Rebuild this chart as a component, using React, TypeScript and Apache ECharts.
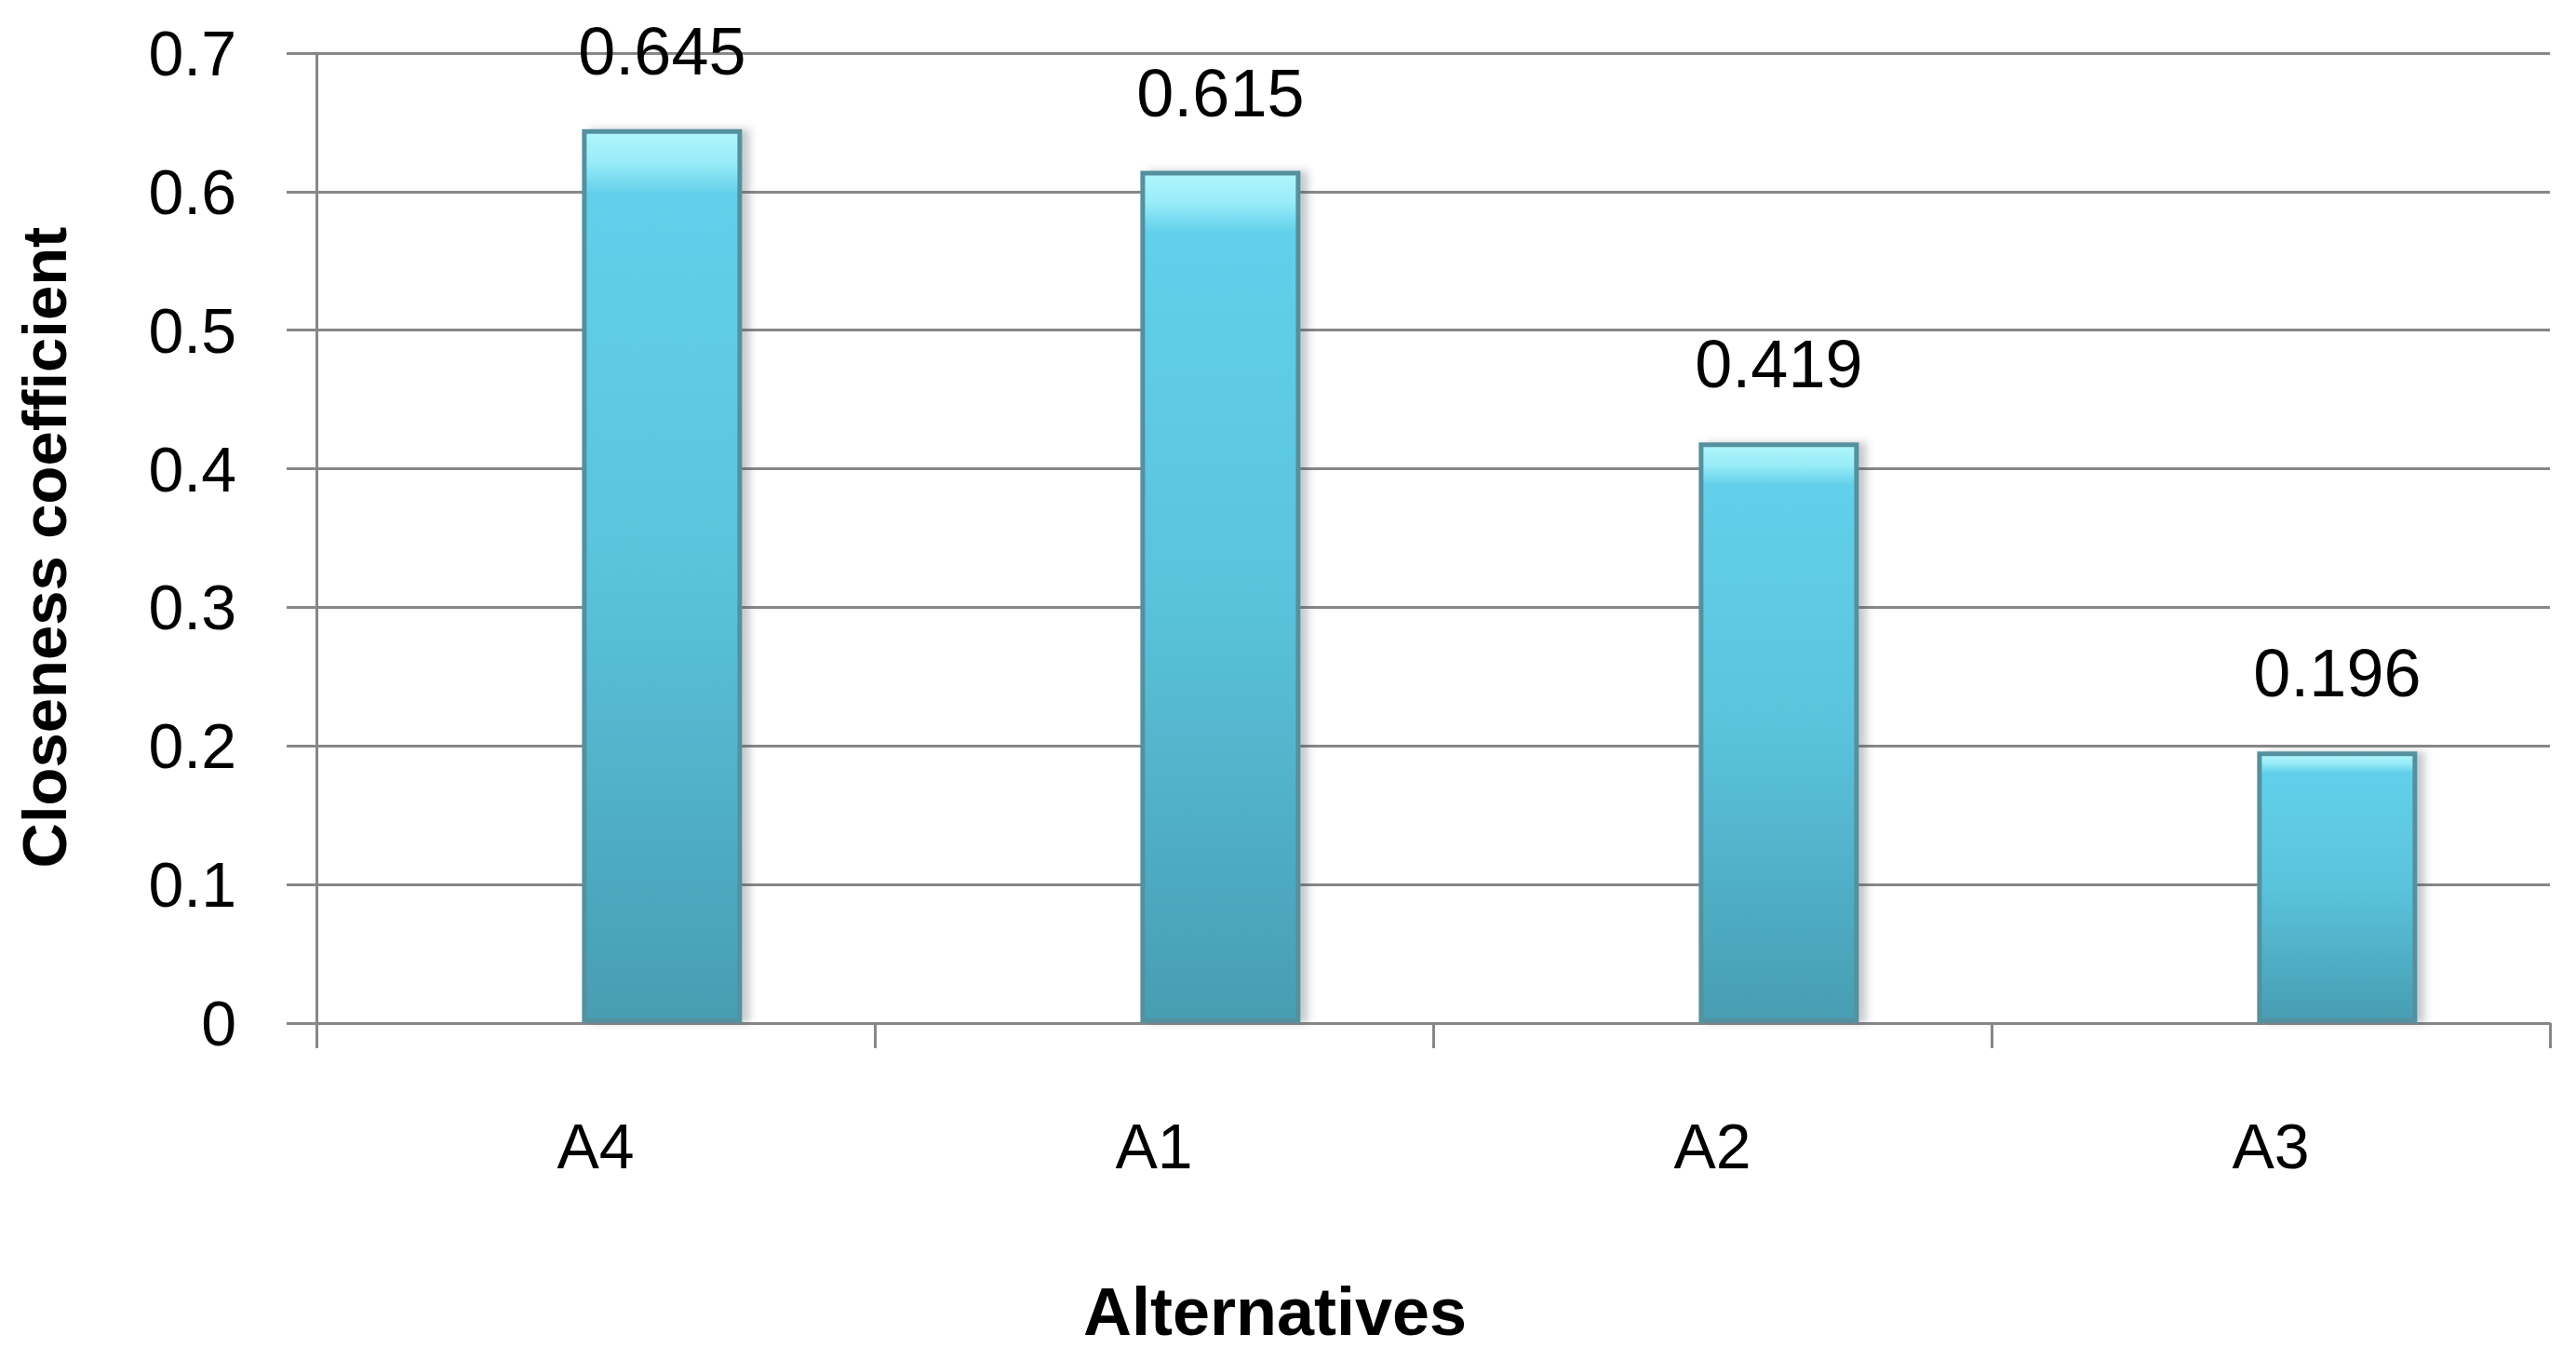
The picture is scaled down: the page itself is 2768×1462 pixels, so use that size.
import React, { useEffect, useRef } from "react";
import * as echarts from "echarts";

const categories = ["A4", "A1", "A2", "A3"];
const closeness = [0.645, 0.615, 0.419, 0.196];
const yTicks = { min: 0, max: 0.7, interval: 0.1 };
const xAxisName = "Alternatives";
const yAxisName = "Closeness coefficient";

const GRAY = "#878787";
const FONT = "Liberation Sans";

export default function App() {
  const ref = useRef<HTMLDivElement>(null);
  useEffect(() => {
    if (!ref.current) return;
    const chart = echarts.init(ref.current, undefined, { renderer: "svg" });
    chart.setOption({
      animation: false,
      backgroundColor: "#ffffff",
      grid: { left: 340, right: 28, top: 57, bottom: 363, containLabel: false },
      xAxis: {
        type: "category",
        data: categories,
        boundaryGap: true,
        name: xAxisName,
        nameLocation: "middle",
        nameGap: 274,
        nameTextStyle: {
          fontFamily: FONT,
          fontWeight: "bold",
          fontSize: 72,
          color: "#000",
          padding: [0, 340, 0, 0],
        },
        axisLine: { show: true, lineStyle: { color: GRAY, width: 3 } },
        axisTick: { show: true, length: 27, lineStyle: { color: GRAY, width: 3 } },
        axisLabel: { fontFamily: FONT, fontSize: 68, color: "#000", margin: 98 },
        splitLine: { show: false },
      },
      yAxis: {
        type: "value",
        min: yTicks.min,
        max: yTicks.max,
        interval: yTicks.interval,
        name: yAxisName,
        nameLocation: "middle",
        nameGap: 259,
        nameTextStyle: {
          fontFamily: FONT,
          fontWeight: "bold",
          fontSize: 67,
          color: "#000",
          padding: [0, 20, 0, 0],
        },
        axisLine: { show: true, lineStyle: { color: GRAY, width: 3 } },
        axisTick: { show: true, length: 32, lineStyle: { color: GRAY, width: 3 } },
        axisLabel: { fontFamily: FONT, fontSize: 68, color: "#000", margin: 86 },
        splitLine: { show: true, lineStyle: { color: GRAY, width: 3 } },
      },
      series: [
        {
          name: "spacer",
          type: "bar",
          data: categories.map(() => "-"),
          barWidth: 172,
          barGap: "-17%",
          silent: true,
          itemStyle: { color: "transparent" },
        },
        {
          name: "Closeness coefficient",
          type: "bar",
          data: closeness,
          barWidth: 172,
          barGap: "-17%",
          itemStyle: {
            color: new echarts.graphic.LinearGradient(0, 0, 0, 1, [
              { offset: 0, color: "#b0f6fc" },
              { offset: 0.035, color: "#98ecf8" },
              { offset: 0.07, color: "#62d0ea" },
              { offset: 0.5, color: "#5ac3dc" },
              { offset: 1, color: "#479db2" },
            ]),
            borderColor: "#55909e",
            borderWidth: 5,
            shadowColor: "rgba(60,80,90,0.3)",
            shadowBlur: 8,
            shadowOffsetX: 8,
            shadowOffsetY: 0,
          },
          label: {
            show: true,
            position: "top",
            distance: 48,
            fontFamily: FONT,
            fontSize: 72,
            color: "#000",
            formatter: (p: any) => Number(p.value).toFixed(3),
          },
        },
      ],
    });
    return () => chart.dispose();
  }, []);
  return (
    <div
      ref={ref}
      style={{ position: "fixed", left: 0, top: 0, width: 2768, height: 1462, background: "#fff" }}
    />
  );
}
